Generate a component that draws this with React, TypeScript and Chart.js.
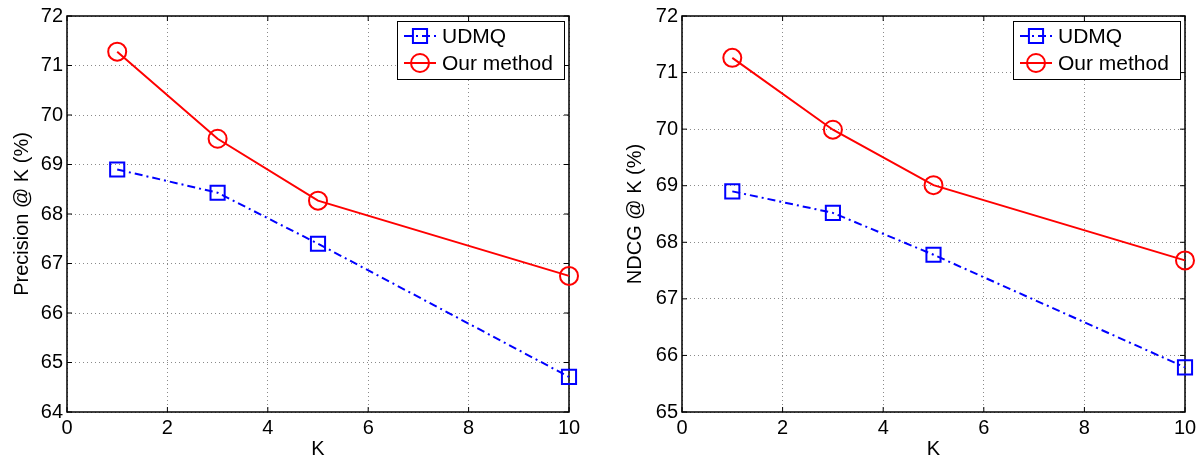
import React, { useEffect, useRef } from "react";
import { Chart, registerables } from "chart.js";

Chart.register(...registerables);

const kValues = [1, 3, 5, 10];
const precisionUDMQ = [68.9, 68.43, 67.4, 64.71];
const precisionOurs = [71.28, 69.52, 68.27, 66.75];
const ndcgUDMQ = [68.9, 68.52, 67.78, 65.79];
const ndcgOurs = [71.26, 69.99, 69.01, 67.68];
const seriesLabels = ["UDMQ", "Our method"];
const xTickValues = [0, 2, 4, 6, 8, 10];

const FONT = "'Liberation Sans', Arial, Helvetica, sans-serif";

const framePlugin = {
  id: "frame",
  beforeDatasetsDraw(chart: any) {
    const { ctx, chartArea: a, scales } = chart;
    ctx.save();
    ctx.strokeStyle = "#000";
    ctx.lineWidth = 1.5;
    ctx.setLineDash([]);
    ctx.strokeRect(a.left, a.top, a.right - a.left, a.bottom - a.top);
    const len = 5;
    ctx.lineWidth = 1;
    ctx.beginPath();
    scales.x.ticks.forEach((t: any) => {
      const px = scales.x.getPixelForValue(t.value);
      ctx.moveTo(px, a.bottom);
      ctx.lineTo(px, a.bottom - len);
      ctx.moveTo(px, a.top);
      ctx.lineTo(px, a.top + len);
    });
    scales.y.ticks.forEach((t: any) => {
      const py = scales.y.getPixelForValue(t.value);
      ctx.moveTo(a.left, py);
      ctx.lineTo(a.left + len, py);
      ctx.moveTo(a.right, py);
      ctx.lineTo(a.right - len, py);
    });
    ctx.stroke();
    ctx.restore();
  },
};

const legendPlugin = {
  id: "boxLegend",
  afterDraw(chart: any) {
    const { ctx, chartArea: a } = chart;
    const w = 167;
    const h = 58;
    const left = a.right - 5 - w;
    const top = a.top + 5;
    ctx.save();
    ctx.fillStyle = "#fff";
    ctx.fillRect(left, top, w, h);
    ctx.strokeStyle = "#000";
    ctx.lineWidth = 1;
    ctx.setLineDash([]);
    ctx.strokeRect(left + 0.5, top + 0.5, w, h);
    chart.data.datasets.forEach((ds: any, i: number) => {
      const cy = top + 15 + i * 27;
      ctx.strokeStyle = ds.borderColor;
      ctx.lineWidth = 2;
      ctx.setLineDash(ds.borderDash || []);
      ctx.beginPath();
      ctx.moveTo(left + 7, cy);
      ctx.lineTo(left + 39, cy);
      ctx.stroke();
      ctx.setLineDash([]);
      ctx.beginPath();
      if (ds.pointStyle === "rect") {
        const s = ds.pointRadius * Math.SQRT1_2;
        ctx.rect(left + 23 - s, cy - s, 2 * s, 2 * s);
      } else {
        ctx.arc(left + 23, cy, ds.pointRadius, 0, Math.PI * 2);
      }
      ctx.stroke();
      ctx.fillStyle = "#000";
      ctx.font = `21px ${FONT}`;
      ctx.textBaseline = "middle";
      ctx.textAlign = "left";
      ctx.fillText(ds.label, left + 45, cy + 1);
    });
    ctx.restore();
  },
};

type PanelProps = {
  udmq: number[];
  ours: number[];
  yMin: number;
  yMax: number;
  yTitle: string;
  yAxisWidth: number;
  yTitlePad: number;
  rightPad: number;
  width: number;
  left: number;
};

function Panel(p: PanelProps) {
  const ref = useRef<HTMLCanvasElement | null>(null);
  useEffect(() => {
    if (!ref.current) return;
    const gridOpts: any = {
      color: "#8a8a8a",
      lineWidth: 1,
      drawTicks: false,
      borderDash: [1, 3],
    };
    const borderOpts: any = { display: false, dash: [1, 3] };
    const chart = new Chart(ref.current, {
      type: "line",
      data: {
        datasets: [
          {
            label: seriesLabels[0],
            data: kValues.map((k, i) => ({ x: k, y: p.udmq[i] })),
            borderColor: "#0000ff",
            backgroundColor: "rgba(0,0,0,0)",
            borderWidth: 2,
            borderDash: [8, 4, 2, 4],
            pointStyle: "rect",
            pointRadius: 10,
            pointBorderWidth: 2,
            pointBorderColor: "#0000ff",
            pointBackgroundColor: "rgba(0,0,0,0)",
            tension: 0,
            clip: false as any,
          } as any,
          {
            label: seriesLabels[1],
            data: kValues.map((k, i) => ({ x: k, y: p.ours[i] })),
            borderColor: "#ff0000",
            backgroundColor: "rgba(0,0,0,0)",
            borderWidth: 2,
            pointStyle: "circle",
            pointRadius: 9,
            pointBorderWidth: 2,
            pointBorderColor: "#ff0000",
            pointBackgroundColor: "rgba(0,0,0,0)",
            tension: 0,
            clip: false as any,
          } as any,
        ],
      },
      options: {
        animation: false,
        responsive: false,
        events: [],
        layout: { padding: { top: 15, right: p.rightPad, left: 0, bottom: 0 } },
        plugins: { legend: { display: false }, tooltip: { enabled: false } },
        scales: {
          x: {
            type: "linear",
            min: 0,
            max: 10,
            afterBuildTicks: (s: any) => {
              s.ticks = xTickValues.map((v) => ({ value: v }));
            },
            afterFit: (s: any) => {
              s.height = 47;
            },
            ticks: {
              color: "#000",
              font: { family: FONT, size: 20 },
              padding: 4,
              maxRotation: 0,
            },
            grid: gridOpts,
            border: borderOpts,
            title: {
              display: true,
              text: "K",
              color: "#000",
              font: { family: FONT, size: 20, lineHeight: 1 },
              padding: { top: 0, bottom: 0 },
            },
          },
          y: {
            type: "linear",
            min: p.yMin,
            max: p.yMax,
            ticks: {
              stepSize: 1,
              color: "#000",
              font: { family: FONT, size: 20 },
              padding: 4,
            },
            afterFit: (s: any) => {
              s.width = p.yAxisWidth;
            },
            grid: gridOpts,
            border: borderOpts,
            title: {
              display: true,
              text: p.yTitle,
              color: "#000",
              font: { family: FONT, size: 20, lineHeight: 1 },
              padding: { top: p.yTitlePad, bottom: 0 },
            },
          },
        },
      },
      plugins: [framePlugin, legendPlugin],
    } as any);
    return () => chart.destroy();
  }, []);
  return (
    <canvas
      ref={ref}
      width={p.width}
      height={459}
      style={{ position: "absolute", left: p.left, top: 0, width: p.width, height: 459 }}
    />
  );
}

export default function App() {
  return (
    <div style={{ position: "absolute", left: 0, top: 0, width: 1201, height: 459, background: "#fff" }}>
      <Panel
        udmq={precisionUDMQ}
        ours={precisionOurs}
        yMin={64}
        yMax={72}
        yTitle="Precision @ K (%)"
        yAxisWidth={67}
        yTitlePad={12}
        rightPad={31}
        width={600}
        left={0}
      />
      <Panel
        udmq={ndcgUDMQ}
        ours={ndcgOurs}
        yMin={65}
        yMax={72}
        yTitle="NDCG @ K (%)"
        yAxisWidth={82}
        yTitlePad={25}
        rightPad={16}
        width={601}
        left={600}
      />
    </div>
  );
}
